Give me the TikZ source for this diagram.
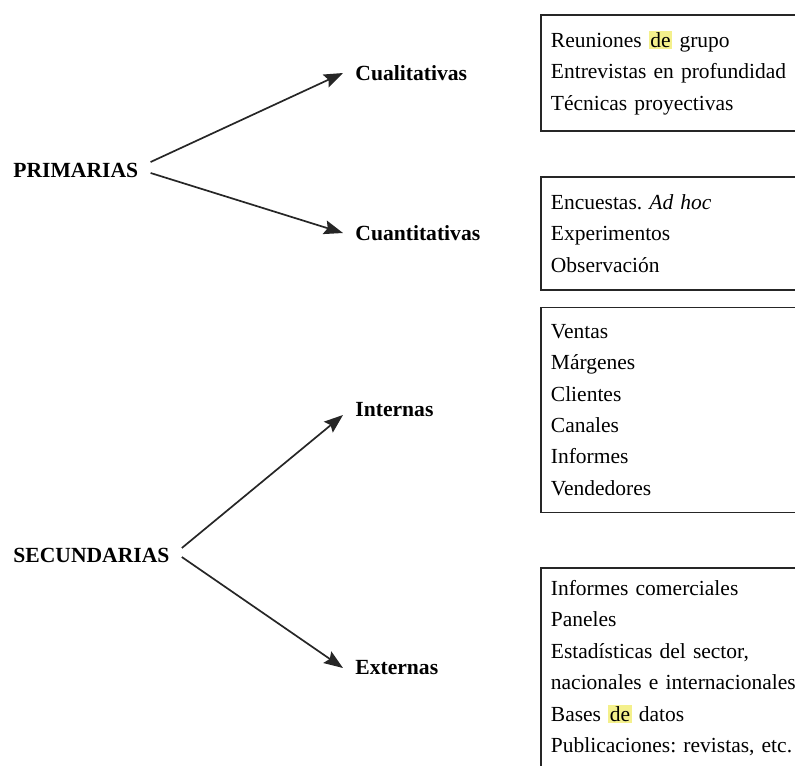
\documentclass[tikz,border=0pt]{standalone}
\usepackage{fontspec}
\setmainfont{Liberation Serif}[WordSpace=0.75]
\usetikzlibrary{arrows.meta,positioning}
\definecolor{trazo}{HTML}{262626}
\definecolor{resalte}{HTML}{F4F08C}
\newcommand{\resaltar}[1]{{\setlength{\fboxsep}{0.8pt}\colorbox{resalte}{#1}}}
\frenchspacing
\tikzset{
  origen/.style={font=\fontsize{10.8}{13}\selectfont\bfseries, anchor=west, inner xsep=6pt},
  tipo/.style={font=\fontsize{10.8}{13}\selectfont\bfseries, anchor=west, inner xsep=6pt},
  lista/.style={draw=trazo, line width=0.9pt, anchor=west, align=left, text width=135pt, inner xsep=5pt, font=\fontsize{10.75}{15.7}\selectfont},
  flecha/.style={-{Stealth[length=9.5pt, width=7pt, inset=1.5pt]}, line width=0.85pt, draw=trazo}
}

\begin{document}
\begin{tikzpicture}[x=0.5pt, y=-0.5pt]
  \useasboundingbox (0,0) rectangle (795,765);
  \clip (0,0) rectangle (795,765);

  % fuentes
  \node[origen] (prim) at (1,170) {PRIMARIAS};
  \node[origen] (secu) at (1,555) {SECUNDARIAS};

  % tipos
  \node[tipo] (cual) at (343,73) {Cualitativas};
  \node[tipo] (cuan) at (343,233) {Cuantitativas};
  \node[tipo] (inte) at (343,410) {Internas};
  \node[tipo] (exte) at (343,668) {Externas};

  % listas
  \node[lista, minimum height=58pt] (lcual) at (540,73) {Reuniones \resaltar{de} grupo\\Entrevistas en profundidad\\Técnicas proyectivas};
  \node[lista, minimum height=56.5pt] (lcuan) at (540,233.5) {Encuestas. \textit{Ad hoc}\\Experimentos\\Observación};
  \node[lista, minimum height=102.5pt] (linte) at (540,410) {Ventas\\Márgenes\\Clientes\\Canales\\Informes\\Vendedores};
  \node[lista, minimum height=100pt] (lexte) at (540,668) {Informes comerciales\\Paneles\\Estadísticas del sector,\\nacionales e internacionales\\Bases \resaltar{de} datos\\Publicaciones: revistas, etc.};

  \draw[flecha] ([yshift=4pt]prim.east) -- (cual.west);
  \draw[flecha] ([yshift=-1.5pt]prim.east) -- (cuan.west);
  \draw[flecha] ([yshift=3.5pt]secu.east) -- ([yshift=-2.5pt]inte.west);
  \draw[flecha] ([yshift=-1pt]secu.east) -- (exte.west);
\end{tikzpicture}
\end{document}
